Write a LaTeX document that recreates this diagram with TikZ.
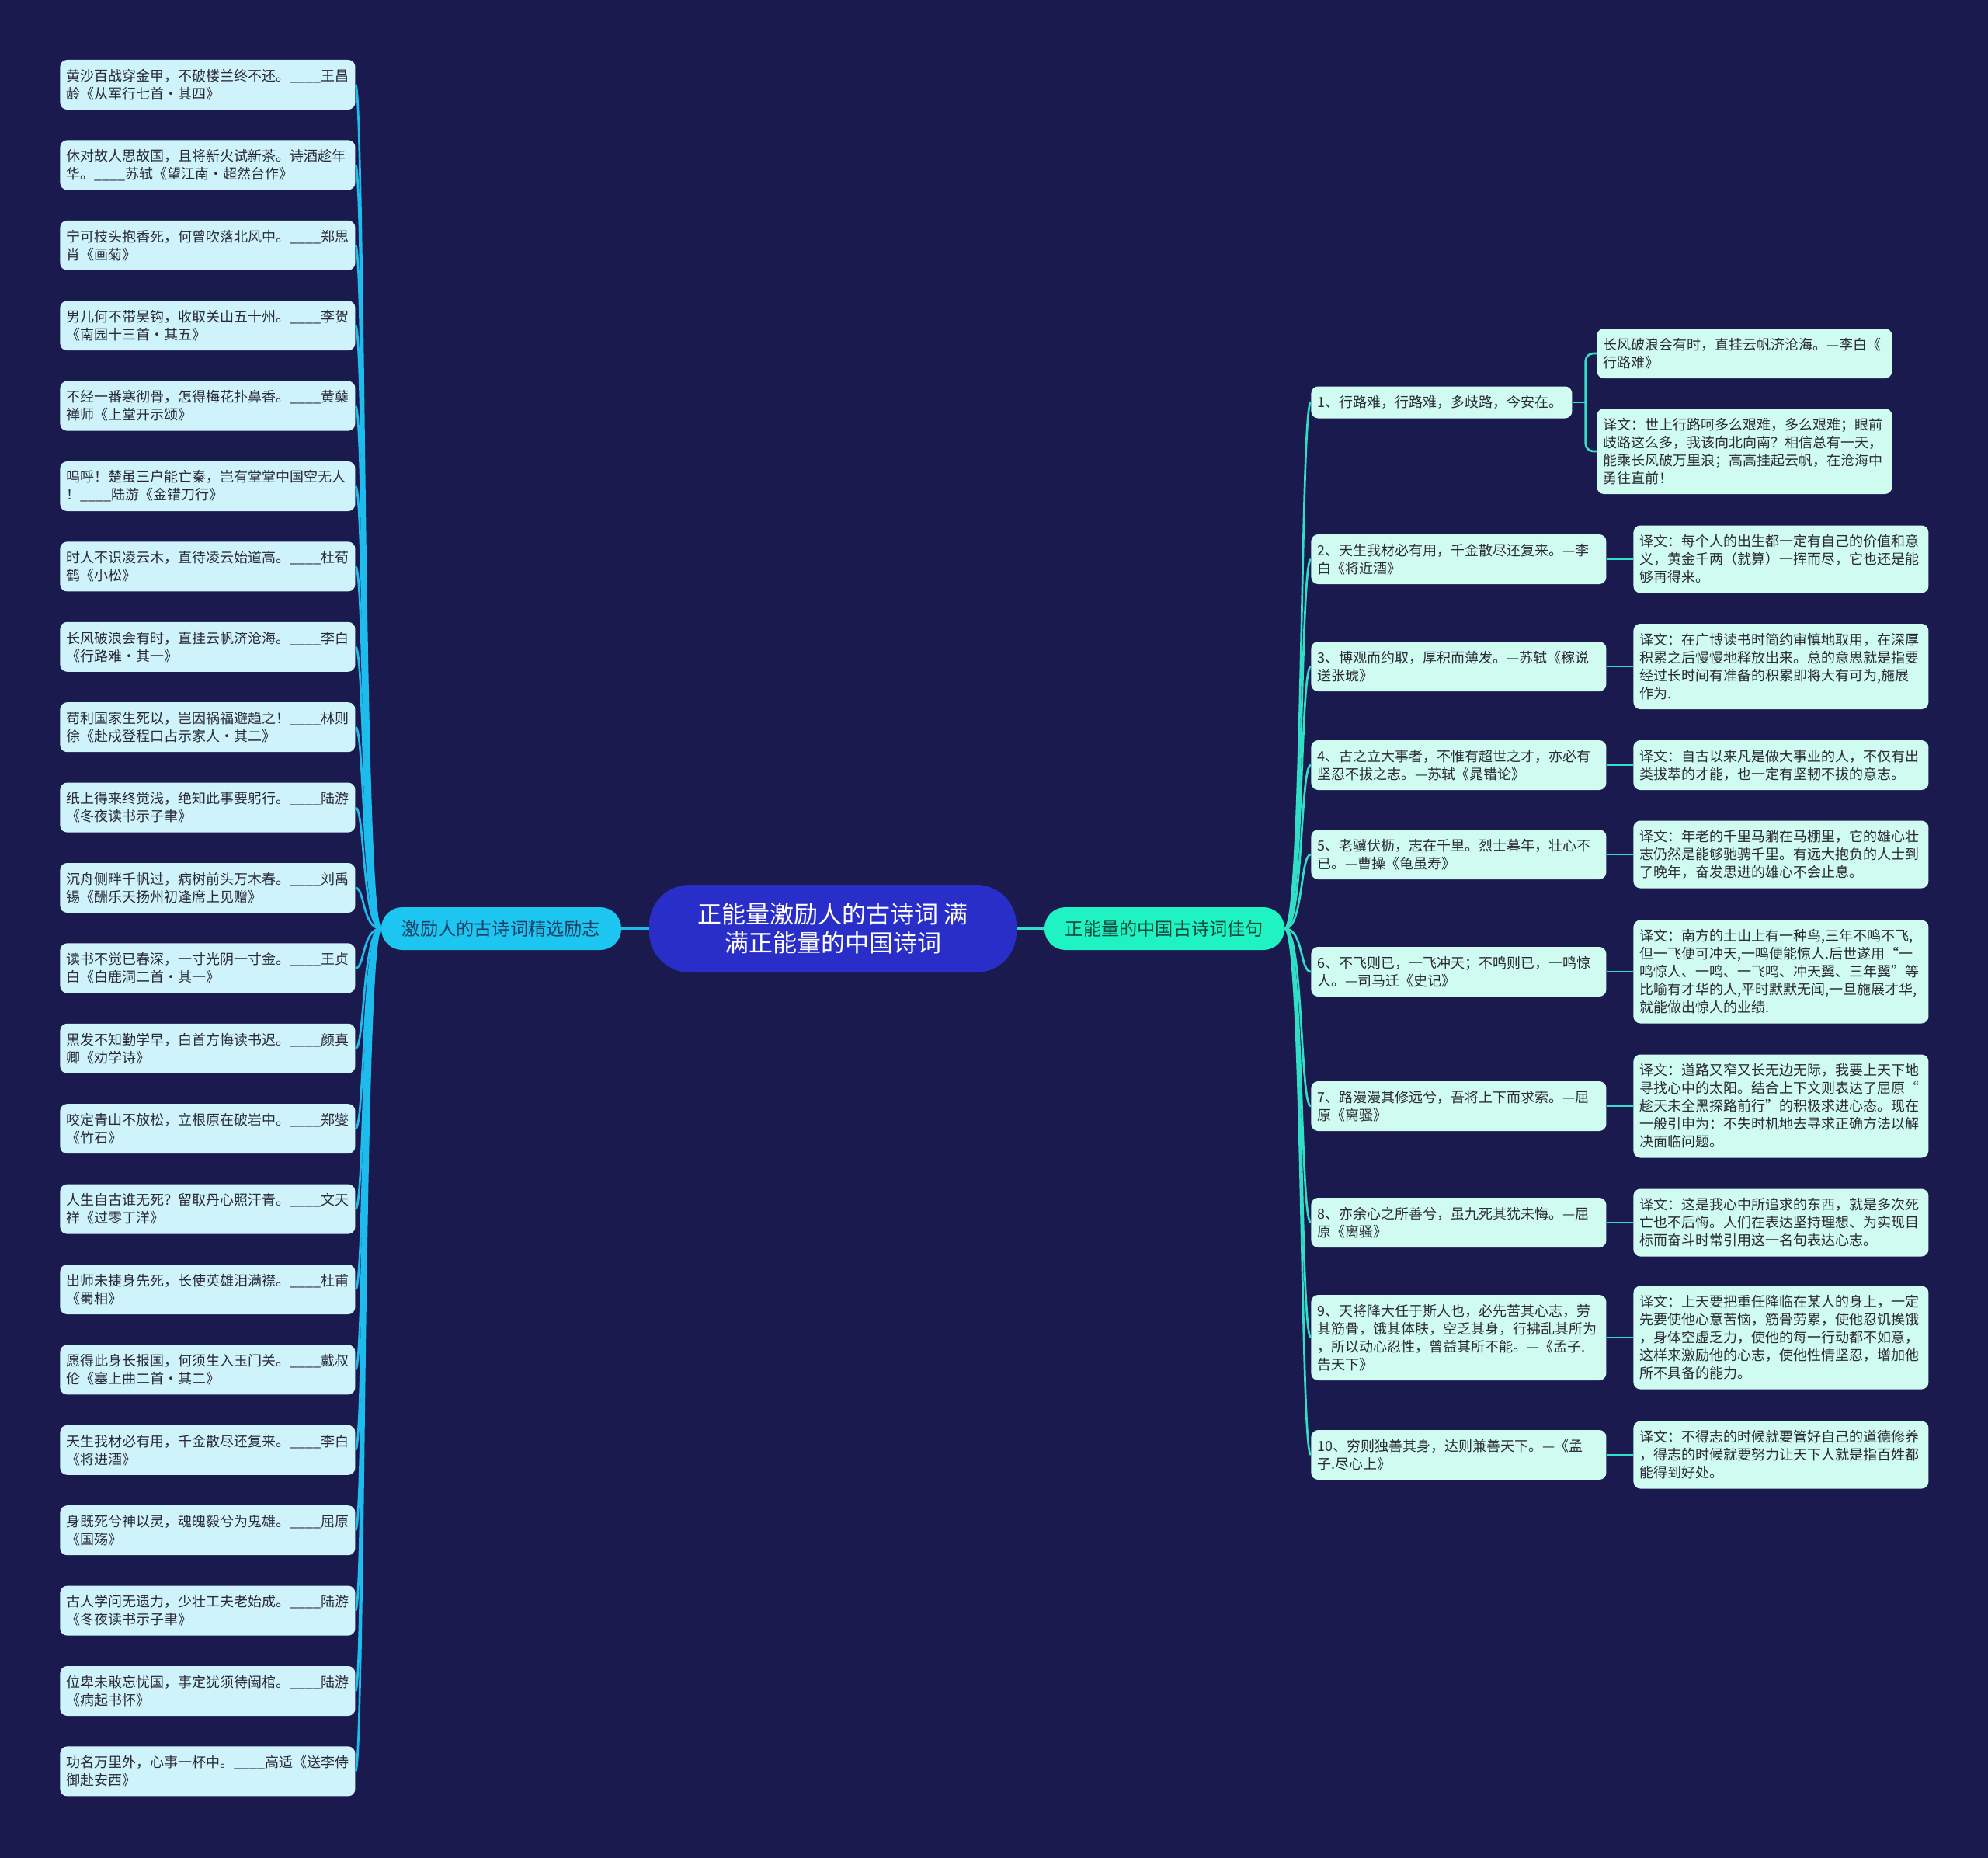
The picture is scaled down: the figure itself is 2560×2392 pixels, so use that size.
\documentclass[tikz,border=0pt]{standalone}
\usepackage{fontspec}
\setmainfont{Noto Sans CJK SC}
\usetikzlibrary{calc}
\definecolor{bgc}{HTML}{1B1A4F}
\definecolor{centrefill}{HTML}{2A2EC8}
\definecolor{lbfill}{HTML}{1CC6F0}
\definecolor{rbfill}{HTML}{1FF3C3}
\definecolor{lcol}{HTML}{1EBCEC}
\definecolor{rcol}{HTML}{30DFC6}
\definecolor{leaflfill}{HTML}{CFF3FB}
\definecolor{leafrfill}{HTML}{D0FBF0}
\definecolor{leaftext}{HTML}{2A2A38}
\definecolor{lbtext}{HTML}{1E3F66}
\definecolor{rbtext}{HTML}{124A3E}
\tikzset{
  leafbase/.style={rounded corners=4.5pt, inner xsep=4pt, inner ysep=0pt,
    text width=182pt, align=left, anchor=west, text=leaftext,
    font=\fontsize{9pt}{11.5pt}\selectfont},
  leafL/.style={leafbase, fill=leaflfill},
  leafR/.style={leafbase, fill=leafrfill},
  ln1/.style={minimum height=20.5pt},
  ln2/.style={minimum height=32pt},
  ln3/.style={minimum height=43.5pt},
  ln4/.style={minimum height=55pt},
  ln5/.style={minimum height=66.5pt},
  centre/.style={fill=centrefill, text=white, rounded corners=26pt,
    minimum width=236.5pt, minimum height=56.5pt, align=center, inner sep=0pt,
    font=\fontsize{15.5pt}{18.5pt}\selectfont},
  branchL/.style={fill=lbfill, text=lbtext, rounded corners=13.5pt,
    minimum width=154.5pt, minimum height=27.5pt, inner sep=0pt,
    font=\fontsize{11.6pt}{14pt}\selectfont},
  branchR/.style={branchL, fill=rbfill, text=rbtext},
  lineL/.style={draw=lcol, line width=1.35pt},
  lineR/.style={draw=rcol, line width=1.35pt},
}
\begin{document}
\begin{tikzpicture}[x=0.5pt,y=-0.5pt]
\fill[bgc] (0,0) rectangle (2560,2392);
\useasboundingbox (0,0) rectangle (2560,2392);

% centre and branches
\node[centre] (c) at (1072.5,1195.5) {正能量激励人的古诗词 满\\满正能量的中国诗词};
\node[branchL] (lb) at (645.5,1195.5) {激励人的古诗词精选励志};
\node[branchR] (rb) at (1499.5,1195.5) {正能量的中国古诗词佳句};
\draw[lineL] (c.west) -- (lb.east);
\draw[lineR] (c.east) -- (rb.west);

% left leaves
\node[leafL,ln2] (l1) at (77,109) {黄沙百战穿金甲，不破楼兰终不还。\_\_\_\_王昌\\龄《从军行七首·其四》};
\node[leafL,ln2] (l2) at (77,212.4) {休对故人思故国，且将新火试新茶。诗酒趁年\\华。\_\_\_\_苏轼《望江南·超然台作》};
\node[leafL,ln2] (l3) at (77,315.8) {宁可枝头抱香死，何曾吹落北风中。\_\_\_\_郑思\\肖《画菊》};
\node[leafL,ln2] (l4) at (77,419.2) {男儿何不带吴钩，收取关山五十州。\_\_\_\_李贺\\《南园十三首·其五》};
\node[leafL,ln2] (l5) at (77,522.6) {不经一番寒彻骨，怎得梅花扑鼻香。\_\_\_\_黄蘖\\禅师《上堂开示颂》};
\node[leafL,ln2] (l6) at (77,626) {呜呼！楚虽三户能亡秦，岂有堂堂中国空无人\\！\_\_\_\_陆游《金错刀行》};
\node[leafL,ln2] (l7) at (77,729.4) {时人不识凌云木，直待凌云始道高。\_\_\_\_杜荀\\鹤《小松》};
\node[leafL,ln2] (l8) at (77,832.8) {长风破浪会有时，直挂云帆济沧海。\_\_\_\_李白\\《行路难·其一》};
\node[leafL,ln2] (l9) at (77,936.2) {苟利国家生死以，岂因祸福避趋之！\_\_\_\_林则\\徐《赴戍登程口占示家人·其二》};
\node[leafL,ln2] (l10) at (77,1039.6) {纸上得来终觉浅，绝知此事要躬行。\_\_\_\_陆游\\《冬夜读书示子聿》};
\node[leafL,ln2] (l11) at (77,1143) {沉舟侧畔千帆过，病树前头万木春。\_\_\_\_刘禹\\锡《酬乐天扬州初逢席上见赠》};
\node[leafL,ln2] (l12) at (77,1246.4) {读书不觉已春深，一寸光阴一寸金。\_\_\_\_王贞\\白《白鹿洞二首·其一》};
\node[leafL,ln2] (l13) at (77,1349.8) {黑发不知勤学早，白首方悔读书迟。\_\_\_\_颜真\\卿《劝学诗》};
\node[leafL,ln2] (l14) at (77,1453.2) {咬定青山不放松，立根原在破岩中。\_\_\_\_郑燮\\《竹石》};
\node[leafL,ln2] (l15) at (77,1556.6) {人生自古谁无死？留取丹心照汗青。\_\_\_\_文天\\祥《过零丁洋》};
\node[leafL,ln2] (l16) at (77,1660) {出师未捷身先死，长使英雄泪满襟。\_\_\_\_杜甫\\《蜀相》};
\node[leafL,ln2] (l17) at (77,1763.4) {愿得此身长报国，何须生入玉门关。\_\_\_\_戴叔\\伦《塞上曲二首·其二》};
\node[leafL,ln2] (l18) at (77,1866.8) {天生我材必有用，千金散尽还复来。\_\_\_\_李白\\《将进酒》};
\node[leafL,ln2] (l19) at (77,1970.2) {身既死兮神以灵，魂魄毅兮为鬼雄。\_\_\_\_屈原\\《国殇》};
\node[leafL,ln2] (l20) at (77,2073.6) {古人学问无遗力，少壮工夫老始成。\_\_\_\_陆游\\《冬夜读书示子聿》};
\node[leafL,ln2] (l21) at (77,2177) {位卑未敢忘忧国，事定犹须待阖棺。\_\_\_\_陆游\\《病起书怀》};
\node[leafL,ln2] (l22) at (77,2280.4) {功名万里外，心事一杯中。\_\_\_\_高适《送李侍\\御赴安西》};
\foreach \i in {1,...,22}
  \draw[lineL] (lb.west) .. controls +(-24,0) and +(12,0) .. (l\i.east);

% right questions
\node[leafR,ln1,text width=160pt] (q1) at (1688,518) {1、行路难，行路难，多歧路，今安在。};
\node[leafR,ln2] (q2) at (1688,720) {2、天生我材必有用，千金散尽还复来。—李\\白《将近酒》};
\node[leafR,ln2] (q3) at (1688,858) {3、博观而约取，厚积而薄发。—苏轼《稼说\\送张琥》};
\node[leafR,ln2] (q4) at (1688,985) {4、古之立大事者，不惟有超世之才，亦必有\\坚忍不拔之志。—苏轼《晁错论》};
\node[leafR,ln2] (q5) at (1688,1100) {5、老骥伏枥，志在千里。烈士暮年，壮心不\\已。—曹操《龟虽寿》};
\node[leafR,ln2] (q6) at (1688,1251) {6、不飞则已，一飞冲天；不鸣则已，一鸣惊\\人。—司马迁《史记》};
\node[leafR,ln2] (q7) at (1688,1424) {7、路漫漫其修远兮，吾将上下而求索。—屈\\原《离骚》};
\node[leafR,ln2] (q8) at (1688,1574) {8、亦余心之所善兮，虽九死其犹未悔。—屈\\原《离骚》};
\node[leafR,ln4] (q9) at (1688,1722) {9、天将降大任于斯人也，必先苦其心志，劳\\其筋骨，饿其体肤，空乏其身，行拂乱其所为\\，所以动心忍性，曾益其所不能。—《孟子.\\告天下》};
\node[leafR,ln2] (q10) at (1688,1873) {10、穷则独善其身，达则兼善天下。—《孟\\子.尽心上》};
\foreach \i in {1,...,10}
  \draw[lineR] (rb.east) .. controls +(24,0) and +(-14,0) .. (q\i.west);

% right children
\node[leafR,ln2] (c1a) at (2056,455) {长风破浪会有时，直挂云帆济沧海。—李白《\\行路难》};
\node[leafR,ln4] (c1b) at (2056,581) {译文：世上行路呵多么艰难，多么艰难；眼前\\歧路这么多，我该向北向南？相信总有一天，\\能乘长风破万里浪；高高挂起云帆，在沧海中\\勇往直前！};
\node[leafR,ln3] (t2) at (2103,720) {译文：每个人的出生都一定有自己的价值和意\\义，黄金千两（就算）一挥而尽，它也还是能\\够再得来。};
\node[leafR,ln4] (t3) at (2103,858) {译文：在广博读书时简约审慎地取用，在深厚\\积累之后慢慢地释放出来。总的意思就是指要\\经过长时间有准备的积累即将大有可为,施展\\作为.};
\node[leafR,ln2] (t4) at (2103,985) {译文：自古以来凡是做大事业的人，不仅有出\\类拔萃的才能，也一定有坚韧不拔的意志。};
\node[leafR,ln3] (t5) at (2103,1100) {译文：年老的千里马躺在马棚里，它的雄心壮\\志仍然是能够驰骋千里。有远大抱负的人士到\\了晚年，奋发思进的雄心不会止息。};
\node[leafR,ln5] (t6) at (2103,1251) {译文：南方的土山上有一种鸟,三年不鸣不飞,\\但一飞便可冲天,一鸣便能惊人.后世遂用“一\\鸣惊人、一鸣、一飞鸣、冲天翼、三年翼”等\\比喻有才华的人,平时默默无闻,一旦施展才华,\\就能做出惊人的业绩.};
\node[leafR,ln5] (t7) at (2103,1424) {译文：道路又窄又长无边无际，我要上天下地\\寻找心中的太阳。结合上下文则表达了屈原“\\趁天未全黑探路前行”的积极求进心态。现在\\一般引申为：不失时机地去寻求正确方法以解\\决面临问题。};
\node[leafR,ln3] (t8) at (2103,1574) {译文：这是我心中所追求的东西，就是多次死\\亡也不后悔。人们在表达坚持理想、为实现目\\标而奋斗时常引用这一名句表达心志。};
\node[leafR,ln5] (t9) at (2103,1722) {译文：上天要把重任降临在某人的身上，一定\\先要使他心意苦恼，筋骨劳累，使他忍饥挨饿\\，身体空虚乏力，使他的每一行动都不如意，\\这样来激励他的心志，使他性情坚忍，增加他\\所不具备的能力。};
\node[leafR,ln3] (t10) at (2103,1873) {译文：不得志的时候就要管好自己的道德修养\\，得志的时候就要努力让天下人就是指百姓都\\能得到好处。};

\draw[lineR] (q1.east) -- ++(17,0) coordinate (f1);
\draw[lineR, rounded corners=5pt] (c1a.west) -| (f1) |- (c1b.west);
\foreach \i in {2,...,10}
  \draw[lineR] (q\i.east) -- (t\i.west);
\end{tikzpicture}
\end{document}
